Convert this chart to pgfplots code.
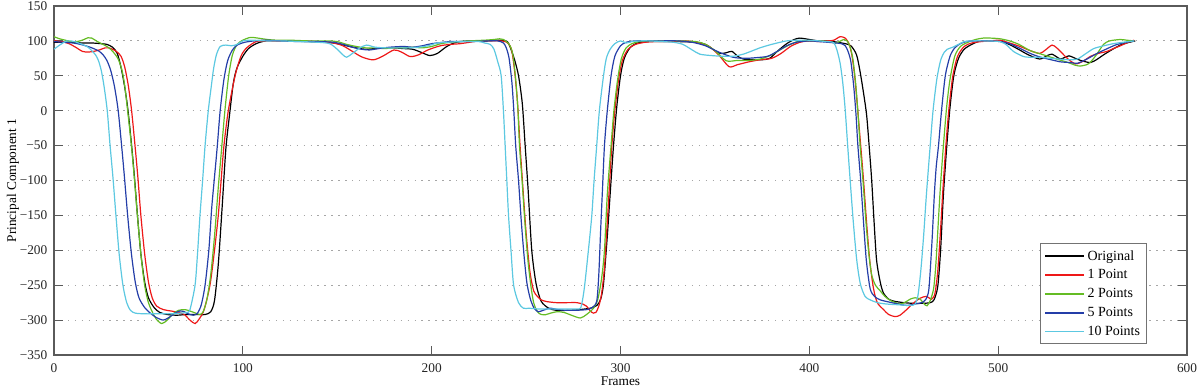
\documentclass[border=0pt]{standalone}
\usepackage{pgfplots}
\pgfplotsset{compat=1.18}
\usepackage{fontspec}
\setmainfont{Liberation Serif}
\definecolor{cRed}{RGB}{238,24,24}
\definecolor{cGreen}{RGB}{100,188,36}
\definecolor{cBlue}{RGB}{36,62,168}
\definecolor{cCyan}{RGB}{92,200,225}
\definecolor{axcol}{RGB}{90,90,90}
\begin{document}
\begin{tikzpicture}
\begin{axis}[
  scale only axis,
  width=849.75pt, height=261.75pt,
  xmin=0, xmax=600, ymin=-350, ymax=150,
  xtick={0,100,200,300,400,500,600},
  xticklabels={0,100,200,300,400,500,600},
  ytick={-350,-300,-250,-200,-150,-100,-50,0,50,100,150},
  yticklabels={−350,−300,−250,−200,−150,−100,−50,0,50,100,150},
  tick align=inside,
  xtick pos=both, ytick pos=both,
  xticklabel pos=lower, yticklabel pos=left,
  major tick length=7pt,
  every tick/.style={axcol, line width=0.7pt},
  axis line style={axcol, line width=0.8pt},
  ymajorgrids,
  grid style={black!35, line width=0.8pt, dash pattern=on 1pt off 4.2pt},
  font=\fontsize{10}{12}\selectfont,
  tick label style={font=\fontsize{10}{12}\selectfont, black!85},
  xticklabel style={anchor=base, yshift=-13.3pt},
  yticklabel style={anchor=east, xshift=-1.5pt},
  xlabel={Frames},
  ylabel={Principal Component 1},
  xlabel style={at={(axis description cs:0.5,-0.0878)}, anchor=base, font=\fontsize{10}{12}\selectfont},
  ylabel style={at={(axis description cs:-0.0335,0.5)}, anchor=base, font=\fontsize{10}{12}\selectfont},
  legend style={at={(0.9647,0.0315)}, anchor=south east, draw=black!55, fill=white,
    font=\fontsize{10.5}{12}\selectfont, row sep=1.6pt, inner xsep=3pt, inner ysep=3pt},
  legend cell align=left,
  legend image code/.code={\draw[#1, line width=1.3pt] (0pt,0pt) -- (29pt,0pt);},
  every axis plot/.append style={line width=0.9pt, smooth, tension=0.45},
]
\coordinate (bl) at (rel axis cs:0,0);
\coordinate (tr) at (rel axis cs:1,1);
% Original
\addplot[color=black] coordinates {
(0,98)(5,98)(10,98)(15,97)(20,97)(25,96)(28,95)(31,91)(33.5,82)(35.5,62)(37.5,33)(39.2,0)(41.1,-50)(42.6,-95)(44.2,-150)(46,-205)(48,-245)(50,-268)(53,-282)(56,-289)(60,-292)(65,-293)(70,-292)(75,-292)(80,-292)
(83,-288)(85,-272)(87,-220)(89,-140)(91,-55)(93,-5)(95,40)(97,62)(100,78)(103,89)(107,96)(112,100)
(117,100)(125,100)(135,99)(145,98)(150,96)(155,93)(160,90)(165,88)(170,89)(175,90)(180,90)(185,89)(190,88)(195,83)(199,79)(203,82)(208,92)(213,98)(220,100)(230,100)(236,101)
(240,99)(242,88)(244,72)(246,50)(248,10)(249.5,-50)(251,-110)(253,-200)(255.3,-248)(258,-273)(262,-283)(266,-286)(272,-286)(278,-285)(284,-283)(287.5,-279)
(289.5,-270)(291,-248)(293,-180)(295,-100)(296.3,-50)(298,5)(300,50)(302,75)(305,90)(309,97)(315,99)
(320,99)(330,99)(340,98)(345,95)(350,86)(353,82)(356,83)(359,85)(362,78)(365,74)(370,73)(375,73)(379,75)(383,85)(388,96)(392,102)(395,104)(400,102)(405,100)(410,100)(415,98)(419,96)(422,93)
(425,80)(427,54)(429,20)(430.4,-8)(431.8,-55)(433,-99)(434.3,-160)(435.6,-214)(437.5,-245)(439.2,-261)(442,-270)(445,-273)(450,-275)(455,-276)(460,-276)(464,-275)(466,-271)
(468,-252)(469.5,-200)(471,-120)(472.8,-50)(474.5,5)(476.5,50)(479,75)(482,88)(486,95)(490.5,100)
(495,100)(501,100)(505,96)(508,92)(512,86)(516,80)(522,74)(526,79)(528.5,81)(531,77)(533,74)(535,76)(537.5,78.6)(540,76)(543.6,72)(548.7,69)(552,73)(555.8,80)(560,87)(564.7,94)(568,97)(572.6,100)
};
\addlegendentry{Original}
% 1 Point
\addplot[color=cRed] coordinates {
(0,100)(4,99)(8,96)(12,90)(15,85)(18,84)(21,85)(24,87)(27,90)(29,90)(31,88)(33,85)(35.5,78)(37.5,62)(39.4,35)(41.1,0)(42.9,-50)(44.4,-95)(46,-150)(48,-205)(50,-245)(52,-268)(54.4,-280)(58,-285)(62,-287)(66,-289)(69,-292)(72,-300)(74.7,-305)(77,-298)
(79.5,-285)(82.6,-250)(85,-200)(87,-150)(88.5,-100)(90,-50)(92.3,0)(95.9,50)(99,78)(102,90)(107,99)(112,100)
(120,100)(130,100)(140,99)(148,97)(153,93)(158,85)(163,77)(169,72.8)(174,78)(180,87)(184,84)(188.6,77.5)(193,80)(198,87)(204.6,93)(210,95)(215,96)(220,98)(225,100)(232,100)(237,100)
(239,99)(241,95)(242.5,85)(244,55)(245.5,10)(246.8,-50)(248.3,-110)(250,-175)(252,-230)(254,-258)(256,-266)(258,-271)(261,-273.5)(266,-275)(272,-275)(276.8,-275)(280,-277)(282,-280)(284,-287)(285.6,-290)(287,-289)(288.5,-280)
(290,-262)(291.5,-225)(293,-160)(294.3,-100)(295.4,-50)(297,0)(299,45)(301,72)(304,88)(308,95)(313,98)(318,99)
(325,99)(335,100)(342,97)(347,92)(352,80)(357.5,63)(362,66)(368,70)(374,73)(380,75)(385,82)(390,92)(395,98)(400,100)(405,99)(410,100)(413,101)(416.3,106)(419,104)(421,96)
(422.5,80)(424,50)(425.5,5)(427.2,-50)(428.7,-100)(430.3,-160)(432,-215)(434,-255)(436,-275)(439.3,-285)(442,-292)(445.4,-295)(448,-293)(451.5,-285)(455,-276)(458.7,-268.6)(462,-266)(464.7,-270)(466.5,-262)
(468,-230)(469.5,-170)(470.8,-110)(472.3,-50)(474,5)(476,50)(478.5,78)(482,92)(486,97)(491,99)
(496,100)(501,101)(506,97)(511.6,92)(517,86)(522,82)(525,87)(528.5,94)(531,90)(534,82)(537,74)(541,67)(545,71)(549,78)(553,82)(557.7,85)(561,89)(564.7,93)(568,97)(572,101)
};
\addlegendentry{1 Point}
% 2 Points
\addplot[color=cGreen] coordinates {
(0,106)(3,103)(6,101)(9,99)(12,99)(15,101)(18,104.5)(20,104)(23,99)(26,95)(28,92)(30,88)(32,82)(34,74)(36,58)(37.5,35)(39,0)(41,-50)(42.5,-95)(44,-145)(46,-205)(48,-250)(50,-275)(52,-288)(54,-298)(57,-305)(60,-300)(63,-291)(66,-286)(69.4,-285)(72,-287)(75,-290)(77.3,-292)(79,-288)(81,-270)
(83,-235)(85,-180)(87,-110)(88.9,-50)(90.5,0)(92.5,50)(94.5,80)(97,95)(100,101)(104,105)(108,104)(113,102)(118,101)
(125,101)(135,100)(145,100)(150,99)(155,95)(160,92)(165,90)(170,90)(175,89)(180,90)(185,90)(190,91)(195,90)(200,92)(205,96)(210,98)(220,100)(228,101)(233,102)(236,103)(238,102)
(240,98)(241.5,93)(243,80)(244.5,45)(245.7,0)(246.5,-50)(248,-105)(249.5,-165)(251,-215)(252.5,-250)(254,-275)(256,-288)(258,-292)(260,-292.5)(263,-290)(266.4,-288)(270,-289)(274,-293)(278.7,-297)(282,-292)(285.7,-283)(288,-270)
(290,-240)(291.5,-200)(293,-120)(295,-50)(296.5,0)(298.5,45)(300.5,75)(303,90)(306,96)(310,99)(315,100)
(320,100)(330,100)(340,99)(345,95)(350,86)(356,71.5)(362,72)(368,72)(374,74)(380,80)(385,88)(390,95)(395,100)(400,100)(405,100)(410,99)(414,97)(418.3,102)(420,100)
(421.5,92)(423,75)(424.5,40)(425.8,-5)(426.9,-50)(428.4,-100)(430,-160)(431.5,-205)(433,-235)(435,-250)(437.5,-258)(440,-266)(443,-272)(448,-277)(451,-274)(453.4,-270)(456,-268)(458.7,-270)(460.5,-276)(462.3,-279.5)(464,-272)(465.8,-255)
(467,-220)(468.5,-150)(469.5,-105)(471,-50)(472.7,5)(474.5,45)(477,78)(480,92)(484,98)(488,102)(492,104)(496,104)
(501,103)(506,100)(511,95)(517,86)(524,80)(531,74)(537,69)(541,65)(543.6,64)(547,66)(549,70)(552,80)(555.8,95)(559,100)(564.7,102)(568,101)(572,100)
};
\addlegendentry{2 Points}
% 5 Points
\addplot[color=cBlue] coordinates {
(0,99)(5,98)(10,97)(14,95)(18,92)(21,89)(24,85)(26,80)(28,72)(30,58)(32,35)(34,0)(35.8,-50)(37.3,-95)(39,-150)(41,-205)(43,-245)(45,-268)(48,-282)(51,-290)(54,-296)(57.9,-300)(61,-296)(64,-290)(66.7,-287)(69,-288)(71,-291)(73.8,-293)(76,-290)(78,-278)
(80,-250)(82,-200)(83.5,-140)(85,-95)(86.5,-50)(88,0)(90,45)(92,72)(94.5,87)(97,94)(101,98)(106,100)(112,101)
(120,100)(130,99)(140,99)(148,98)(153,95)(158,91)(163,88)(167,87)(172,89)(178,91)(185,92)(190,91)(195,93)(200,96)(210,99)(220,99)(230,100)(235,100)
(238,97)(239.5,90)(241,75)(242.5,40)(243.5,0)(244.5,-50)(246,-100)(247.5,-160)(249,-210)(250.5,-248)(252.5,-272)(254.5,-284)(256.6,-288)(259,-286)(262.8,-283)(267,-285)(271.6,-286)(276,-286)(282,-285)(285,-282)(287.4,-273)
(288.5,-235)(289.5,-170)(290.5,-110)(291.5,-50)(293,0)(295,50)(297,78)(300,93)(303,98)(308,100)(315,100)
(320,100)(330,100)(338,98)(345,93)(352,84)(359.7,76.5)(366,75)(372,76)(378,78)(383,85)(388,93)(393,98)(400,100)(405,99)(410,98)(414,97)(417,96)(419,93)
(420.5,85)(422,70)(423.5,35)(424.7,-5)(425.7,-50)(427.2,-100)(428.7,-160)(430.2,-215)(432.2,-255)(434.5,-266)(437.5,-271)(442,-274)(447,-277)(451.6,-279)(456,-277)(460.4,-274)(462.5,-266)
(463.5,-250)(465,-185)(466.2,-120)(467.2,-80)(468.4,-50)(470,0)(472,50)(474.5,78)(477,90)(480,96)(483,99)(488,100)
(495,100)(501,99)(506,96)(511,90)(517,82)(522,77)(528,73)(533,70)(538,69)(542,68)(547,74)(552.3,82)(557,88)(562,94)(566,97)(572,100)
};
\addlegendentry{5 Points}
% 10 Points
\addplot[color=cCyan] coordinates {
(0,88)(3,94)(6.7,100)(9,100)(12,98)(15,95)(18,91)(20,86)(22,80)(23.5,72)(25,58)(26.5,35)(28.2,0)(29.7,-50)(31.2,-95)(32.8,-150)(34.5,-205)(36.5,-250)(38.5,-275)(40.5,-286)(43,-290)(48,-291)(55,-291)(62,-291)(67,-290)(70.3,-289)(72,-285)
(74.7,-250)(76,-205)(77.3,-150)(78.7,-100)(80,-50)(81.7,0)(83.3,35)(84.5,60)(86,80)(88,92)(91,94)(94,93)(97,95)(100,100)(105,101)
(112,100)(120,100)(130,99)(140,98)(146,96)(150,88)(153,80)(155,76.6)(158,82)(162,90)(165.6,94)(170,91)(176,90)(182,90)(188,90)(193,91)(198,93)(203,97)(208,98)(215,99)(225,99)(228,97)
(231,95)(233,88)(235,70)(236.8,50)(238,0)(238.9,-50)(239.8,-100)(240.7,-150)(242,-200)(243.4,-250)(246,-275)(248.6,-283)(251.6,-283)(256,-284)(262.8,-284)(270,-284)(276.8,-284)(279,-282)
(280.8,-255)(283,-200)(284.8,-150)(286,-100)(287.4,-50)(288.8,0)(291,50)(292.5,75)(294.5,88)(297,96)(300,100)(303,97)(306,99)(310,100)
(315,100)(322,99)(328,98)(333,95)(338,87)(342,81)(348,79)(354,78)(359.7,78)(365,81)(370,86)(373.8,90)(380,95)(388,100)(395,101)(400,101)(405,100)(409,99)(412.8,97.6)
(414.5,88)(416.3,68)(417.7,40)(419,1)(420.3,-50)(421.6,-99)(423.3,-160)(425.1,-214)(427,-248)(429.5,-266)(432.2,-271)(436,-275)(441,-277)(447,-278)(453.4,-279)(456,-277)(457.5,-265)
(459,-230)(460.5,-180)(462,-120)(464,-50)(465.5,0)(467.5,45)(469.5,72)(471.5,84)(473,88)(476,91)(479,95)(482,99)(486,100)
(492,100)(501,99)(505,93)(508,85)(513.4,77.6)(518,76.5)(522,76.6)(528,75)(533,73.8)(538,73)(542,74)(546,81)(550.6,89)(556,93)(561,96)(566,98)(572,100)
};
\addlegendentry{10 Points}
\end{axis}
\pgfresetboundingbox
\path ([shift={(-40.5pt,-27pt)}]bl) rectangle ([shift={(9.75pt,4.5pt)}]tr);
\end{tikzpicture}
\end{document}
